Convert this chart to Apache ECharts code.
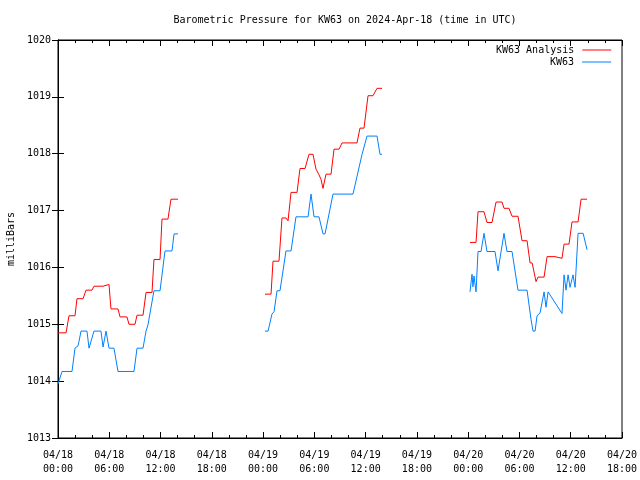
<!DOCTYPE html>
<html>
<head>
<meta charset="utf-8">
<script src="https://cdn.jsdelivr.net/npm/echarts@6/dist/echarts.min.js"></script>
<style>html,body{margin:0;padding:0;background:#fff}#c{width:640px;height:480px}</style>
</head>
<body>
<div id="c"></div>
<script>
// Hours since 2024-04-18 00:00 UTC, pressure in millibars
const analysisSeg1 = [[0.0,1014.85],[0.94,1014.85],[1.29,1015.15],[1.99,1015.15],[2.22,1015.45],[2.93,1015.45],[3.28,1015.60],[3.98,1015.60],[4.21,1015.67],[5.27,1015.67],[5.38,1015.70],[5.97,1015.70],[6.20,1015.27],[7.02,1015.27],[7.26,1015.13],[8.07,1015.13],[8.31,1015.00],[9.01,1015.00],[9.25,1015.16],[9.95,1015.16],[10.30,1015.56],[11.00,1015.56],[11.23,1016.14],[11.94,1016.14],[12.17,1016.85],[12.87,1016.85],[13.22,1017.20],[14.04,1017.20]];
const analysisSeg2 = [[24.22,1015.53],[24.93,1015.53],[25.16,1016.11],[25.86,1016.11],[26.21,1016.87],[26.68,1016.87],[26.92,1016.82],[27.27,1017.32],[27.97,1017.32],[28.32,1017.74],[28.91,1017.74],[29.37,1017.99],[29.84,1017.99],[30.19,1017.73],[30.54,1017.63],[30.78,1017.55],[31.01,1017.39],[31.36,1017.64],[31.95,1017.64],[32.30,1018.08],[32.89,1018.08],[33.24,1018.19],[34.99,1018.19],[35.34,1018.45],[35.81,1018.45],[36.28,1019.02],[36.86,1019.02],[37.33,1019.15],[37.92,1019.15]];
const analysisSeg3 = [[48.21,1016.44],[48.92,1016.44],[49.15,1016.98],[49.85,1016.98],[50.20,1016.79],[50.79,1016.79],[51.26,1017.15],[51.96,1017.15],[52.19,1017.04],[52.78,1017.04],[53.13,1016.90],[53.83,1016.90],[54.30,1016.47],[54.89,1016.47],[55.24,1016.08],[55.48,1016.08],[55.94,1015.75],[56.17,1015.83],[56.88,1015.83],[57.23,1016.19],[58.16,1016.19],[58.98,1016.16],[59.22,1016.41],[59.80,1016.41],[60.15,1016.80],[60.86,1016.80],[61.21,1017.20],[61.91,1017.20]];
const obsSeg1 = [[0.0,1013.95],[0.47,1014.17],[1.64,1014.17],[1.99,1014.58],[2.34,1014.62],[2.46,1014.70],[2.69,1014.88],[3.39,1014.88],[3.63,1014.58],[3.86,1014.58],[4.21,1014.88],[5.03,1014.88],[5.27,1014.60],[5.62,1014.88],[5.97,1014.58],[6.55,1014.58],[7.02,1014.17],[8.89,1014.17],[9.25,1014.58],[9.95,1014.58],[10.30,1014.88],[10.53,1014.99],[11.23,1015.59],[11.94,1015.59],[12.52,1016.29],[13.34,1016.29],[13.58,1016.59],[14.04,1016.59]];
const obsSeg2 = [[24.22,1014.88],[24.58,1014.88],[25.04,1015.18],[25.28,1015.22],[25.63,1015.59],[25.98,1015.59],[26.68,1016.29],[27.27,1016.29],[27.85,1016.89],[29.26,1016.89],[29.61,1017.29],[29.96,1016.89],[30.54,1016.89],[31.01,1016.59],[31.25,1016.59],[32.18,1017.29],[34.52,1017.29],[35.58,1017.99],[36.16,1018.31],[37.33,1018.31],[37.68,1017.99],[37.92,1017.99]];
const obsSeg3 = [[48.21,1015.57],[48.45,1015.88],[48.56,1015.66],[48.68,1015.85],[48.92,1015.57],[49.15,1016.28],[49.50,1016.28],[49.85,1016.60],[50.20,1016.28],[51.14,1016.28],[51.49,1015.94],[52.19,1016.60],[52.54,1016.28],[53.13,1016.28],[53.83,1015.60],[54.89,1015.60],[55.36,1015.08],[55.59,1014.88],[55.83,1014.88],[56.06,1015.15],[56.41,1015.20],[56.88,1015.57],[57.11,1015.30],[57.35,1015.57],[58.98,1015.19],[59.22,1015.87],[59.45,1015.60],[59.69,1015.87],[59.92,1015.65],[60.27,1015.87],[60.51,1015.65],[60.86,1016.60],[61.45,1016.60],[61.91,1016.31]];
const dayLabels = ['04/18','04/19','04/20'];
const seriesNames = ['KW63 Analysis','KW63'];
const titleText = 'Barometric Pressure for KW63 on 2024-Apr-18 (time in UTC)';

const FONT = 'DejaVu Sans Mono';
const red = '#ff0000', blue = '#0080ff';
function fmtX(v){
  const d = Math.floor(v/24), h = v%24;
  return dayLabels[d] + '\n' + String(h).padStart(2,'0') + ':00';
}
function mkSeries(name, data, color){
  return {name:name, type:'line', data:data, showSymbol:false, symbol:'none',
    lineStyle:{color:color, width:1}, itemStyle:{color:color}, xAxisIndex:0, yAxisIndex:0, z:3};
}
const chart = echarts.init(document.getElementById('c'), null, {renderer:'canvas'});
const txt = {fontFamily:FONT, fontSize:10, color:'#000'};
const legendCommon = {orient:'horizontal', align:'right', itemWidth:29, itemHeight:1, itemGap:0,
  padding:0, textStyle:Object.assign({padding:[0,3,0,0]}, txt), icon:'rect', selectedMode:false};
chart.setOption({
  animation:false,
  title:{text:titleText, left:340, textAlign:'center', top:10, textStyle:Object.assign({fontWeight:'normal'},txt)},
  legend:[
    Object.assign({data:[seriesNames[0]], left:496, top:45}, legendCommon),
    Object.assign({data:[seriesNames[1]], left:550, top:57}, legendCommon)
  ],
  grid:{left:58, right:18, top:40, bottom:42, show:true, borderColor:'#000', borderWidth:1,
        backgroundColor:'transparent', containLabel:false, outerBoundsMode:'none'},
  xAxis:[
    {type:'value', min:0, max:66, interval:6, position:'bottom',
     axisLine:{show:true, lineStyle:{color:'#000'}},
     axisTick:{show:true, inside:true, length:6, lineStyle:{color:'#000'}},
     minorTick:{show:true, splitNumber:3, length:3, lineStyle:{color:'#000'}},
     splitLine:{show:false},
     axisLabel:Object.assign({formatter:fmtX, margin:10, lineHeight:14}, txt)},
    {type:'value', min:0, max:66, interval:6, position:'top',
     axisLine:{show:true, lineStyle:{color:'#000'}},
     axisTick:{show:true, inside:true, length:6, lineStyle:{color:'#000'}},
     minorTick:{show:true, splitNumber:3, length:3, lineStyle:{color:'#000'}},
     splitLine:{show:false}, axisLabel:{show:false}}
  ],
  yAxis:[
    {type:'value', min:1013, max:1020, interval:1, position:'left',
     name:'milliBars', nameLocation:'middle', nameGap:40, nameRotate:90, nameTextStyle:txt,
     axisLine:{show:true, lineStyle:{color:'#000'}},
     axisTick:{show:true, inside:true, length:6, lineStyle:{color:'#000'}},
     splitLine:{show:false},
     axisLabel:Object.assign({margin:7, formatter:function(v){return String(v);}}, txt)},
    {type:'value', min:1013, max:1020, interval:1, position:'right',
     axisLine:{show:true, lineStyle:{color:'#000'}},
     axisTick:{show:true, inside:true, length:6, lineStyle:{color:'#000'}},
     splitLine:{show:false}, axisLabel:{show:false}}
  ],
  series:[
    mkSeries(seriesNames[0], analysisSeg1, red),
    mkSeries(seriesNames[0], analysisSeg2, red),
    mkSeries(seriesNames[0], analysisSeg3, red),
    mkSeries(seriesNames[1], obsSeg1, blue),
    mkSeries(seriesNames[1], obsSeg2, blue),
    mkSeries(seriesNames[1], obsSeg3, blue)
  ]
});
</script>
</body>
</html>
